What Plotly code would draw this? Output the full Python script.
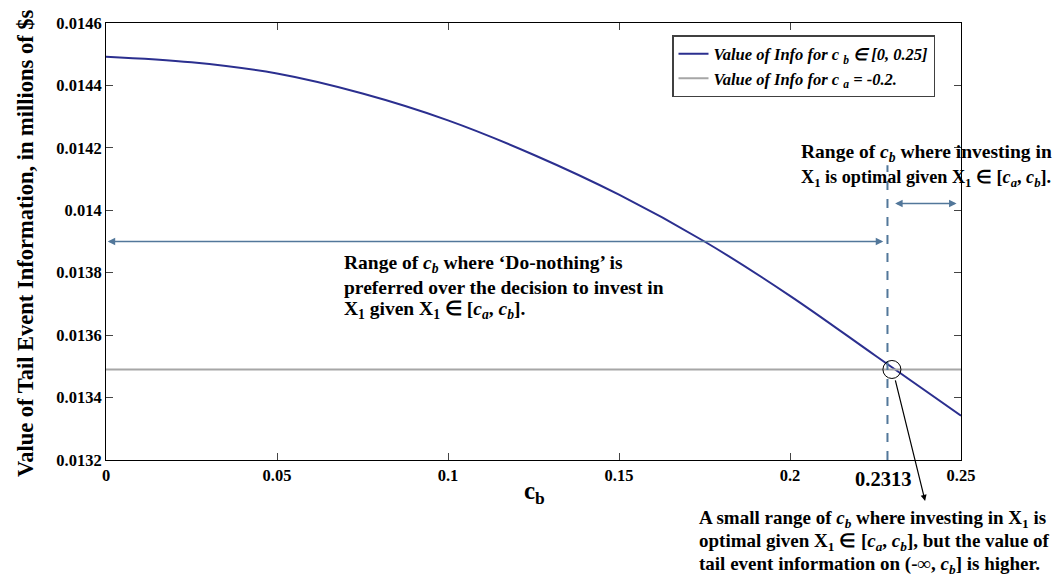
import plotly.graph_objects as go

# ---- data ----
cb_values = [0.0, 0.025, 0.05, 0.075, 0.1, 0.125, 0.15, 0.175, 0.2, 0.225, 0.25]
info_values = [0.014492, 0.014474, 0.014438, 0.014374, 0.014288, 0.014178,
               0.014050, 0.013900, 0.013726, 0.013534, 0.013342]
ca_info_value = 0.01349
cb_range = [0.0, 0.25]

x_ticks = [0, 0.05, 0.1, 0.15, 0.2, 0.25]
x_ticktext = ["0", "0.05", "0.1", "0.15", "0.2", "0.25"]
y_ticks = [0.0132, 0.0134, 0.0136, 0.0138, 0.014, 0.0142, 0.0144, 0.0146]
y_ticktext = ["0.0132", "0.0134", "0.0136", "0.0138", "0.014", "0.0142", "0.0144", "0.0146"]

threshold_label = "0.2313"
threshold_x = 0.2285          # where the dashed marker is drawn
dashed_top = 0.014144
left_arrow_y = 0.01390
right_arrow_y = 0.014022
right_arrow_x = [0.2303, 0.2487]
circle_center = (0.2298, 0.01349)
pointer_tail = (0.2307, 0.01346)
pointer_tip = (0.2395, 0.013069)

text_top = ["Range of <i>c<sub>b</sub></i> where investing in",
            "X<sub>1</sub> is optimal given X<sub>1</sub> ∈ [<i>c<sub>a</sub></i>, <i>c<sub>b</sub></i>]."]
text_mid = ["Range of <i>c<sub>b</sub></i> where ‘Do-nothing’ is",
            "preferred over the decision to invest in",
            "X<sub>1</sub> given X<sub>1</sub> ∈ [<i>c<sub>a</sub></i>, <i>c<sub>b</sub></i>]."]
text_bot = ["A small range of <i>c<sub>b</sub></i> where investing in X<sub>1</sub> is",
            "optimal given X<sub>1</sub> ∈ [<i>c<sub>a</sub></i>, <i>c<sub>b</sub></i>], but the value of",
            "tail event information on (-∞, <i>c<sub>b</sub></i>] is higher."]

FONT = "Liberation Serif, Times New Roman, serif"
NAVY = "#2B2F8F"
GREY = "#A6A6A6"
STEEL = "#52779A"

L, R, T, B = 106, 102, 23, 117
W, H = 1063, 577
PW, PH = W - L - R, H - T - B


def pix_x(px):
    return (px - L) / PW


def pix_y(py):
    return (H - B - py) / PH


fig = go.Figure()
fig.add_trace(go.Scatter(
    x=cb_values, y=info_values, mode="lines", line=dict(color=NAVY, width=2, shape="spline"),
    name="<b><i>Value of Info for c <sub>b</sub> ∈ [0, 0.25]</i></b>"))
fig.add_trace(go.Scatter(
    x=cb_range, y=[ca_info_value, ca_info_value], mode="lines", line=dict(color=GREY, width=2),
    name="<b><i>Value of Info for c <sub>a</sub> = -0.2.</i></b>"))

# dashed threshold line
fig.add_trace(go.Scatter(
    x=[threshold_x, threshold_x], y=[0.0132, dashed_top], mode="lines",
    line=dict(color=STEEL, width=2, dash="dash"), showlegend=False, hoverinfo="skip"))

# circle around intersection
fig.add_shape(type="circle", xref="x", yref="y", xsizemode="pixel", ysizemode="pixel",
              xanchor=circle_center[0], yanchor=circle_center[1], x0=-9, x1=9, y0=-9, y1=9,
              line=dict(color="black", width=1))

# double-headed arrows
fig.add_annotation(x=0.0005, y=left_arrow_y, ax=threshold_x - 0.0008, ay=left_arrow_y,
                   xref="x", yref="y", axref="x", ayref="y", text="", showarrow=True,
                   arrowhead=2, startarrowhead=2, arrowside="end+start", arrowsize=1,
                   arrowwidth=1.5, arrowcolor=STEEL)
fig.add_annotation(x=right_arrow_x[1], y=right_arrow_y, ax=right_arrow_x[0], ay=right_arrow_y,
                   xref="x", yref="y", axref="x", ayref="y", text="", showarrow=True,
                   arrowhead=2, startarrowhead=2, arrowside="end+start", arrowsize=1,
                   arrowwidth=1.5, arrowcolor=STEEL)
# black pointer arrow
fig.add_annotation(x=pointer_tip[0], y=pointer_tip[1], ax=pointer_tail[0], ay=pointer_tail[1],
                   xref="x", yref="y", axref="x", ayref="y", text="", showarrow=True,
                   arrowhead=2, arrowsize=1, arrowwidth=1.2, arrowcolor="black")


def add_block(lines, left_px, centers_px, sizes):
    for line, cy, sz in zip(lines, centers_px, sizes):
        fig.add_annotation(x=pix_x(left_px), y=pix_y(cy), xref="paper", yref="paper",
                           xanchor="left", yanchor="middle", align="left", showarrow=False,
                           font=dict(family=FONT, size=sz, color="black"),
                           text="<b>" + line + "</b>")


add_block(text_top, 799, [153, 178], [19.5, 18.2])
add_block(text_mid, 342, [264, 287, 310], [19.5, 19.5, 19.5])
add_block(text_bot, 697, [519, 542, 565], [19, 19, 19])

fig.add_annotation(
    x=pix_x(883), y=pix_y(479), xref="paper", yref="paper", xanchor="center", yanchor="middle",
    showarrow=False, font=dict(family=FONT, size=20.5, color="black"),
    text="<b>" + threshold_label + "</b>")
fig.add_annotation(
    x=pix_x(534), y=pix_y(492), xref="paper", yref="paper", xanchor="center", yanchor="middle",
    showarrow=False, font=dict(family=FONT, size=25, color="black"),
    text="<b>c<sub>b</sub></b>")
fig.add_annotation(
    x=pix_x(26), y=pix_y(243), xref="paper", yref="paper", xanchor="center", yanchor="middle",
    textangle=-90, showarrow=False, font=dict(family=FONT, size=22.5, color="black"),
    text="<b>Value of Tail Event Information, in millions of $s</b>")

fig.update_layout(
    width=W, height=H,
    margin=dict(l=L, r=R, t=T, b=B, autoexpand=False),
    paper_bgcolor="white", plot_bgcolor="white",
    font=dict(family=FONT, color="black"),
    legend=dict(x=pix_x(672), y=pix_y(35), xanchor="left", yanchor="top",
                bgcolor="white", bordercolor="#404040", borderwidth=1.5,
                font=dict(family=FONT, size=16.5, color="black"), itemwidth=30,
                tracegroupgap=0),
    showlegend=True,
)
fig.update_xaxes(range=[0, 0.25], tickvals=x_ticks, ticktext=x_ticktext, ticks="inside", ticklen=7,
                 showline=True, linecolor="black", linewidth=1, mirror="ticks", showgrid=False,
                 zeroline=False, tickfont=dict(family=FONT, size=16.5, color="black", weight="bold"))
fig.update_yaxes(range=[0.0132, 0.0146], tickvals=y_ticks, ticktext=y_ticktext, ticks="inside", ticklen=7,
                 showline=True, linecolor="black", linewidth=1, mirror="ticks", showgrid=False,
                 zeroline=False, tickfont=dict(family=FONT, size=16.5, color="black", weight="bold"))

fig.write_html("out.html", config={"displayModeBar": False},
               post_script="document.body.style.margin='0px';")
